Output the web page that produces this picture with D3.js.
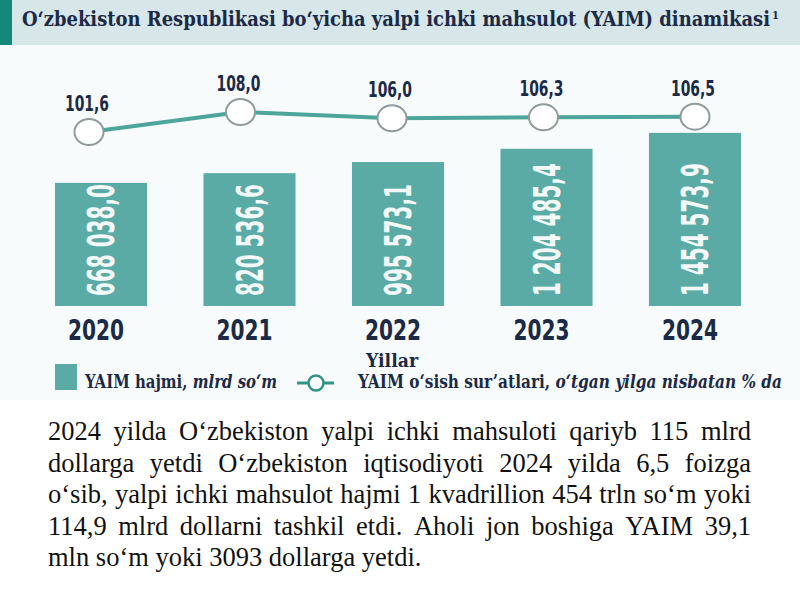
<!DOCTYPE html>
<html><head><meta charset="utf-8">
<script src="https://cdn.jsdelivr.net/npm/d3@7"></script>
<style>html,body{margin:0;padding:0;background:#fff;} svg{display:block;}</style>
</head><body><svg id="c" width="800" height="600"></svg>
<script>
// ---------------- data ----------------
const years = ["2020", "2021", "2022", "2023", "2024"];
const gdpVolume = [668038.0, 820536.6, 995573.1, 1204485.4, 1454573.9];
const gdpVolumeLabels = ["668 038,0", "820 536,6", "995 573,1", "1 204 485,4", "1 454 573,9"];
const growthRate = [101.6, 108.0, 106.0, 106.3, 106.5];
const growthLabels = ["101,6", "108,0", "106,0", "106,3", "106,5"];
const titleText = "O‘zbekiston Respublikasi bo‘yicha yalpi ichki mahsulot (YAIM) dinamikasi";
const titleNote = "1";
const axisTitle = "Yillar";
const legendBar = ["YAIM hajmi, ", "mlrd so‘m"];
const legendLine = ["YAIM o‘sish sur’atlari, ", "o‘tgan yilga nisbatan % da"];
const paragraphLines = [
  "2024 yilda O‘zbekiston yalpi ichki mahsuloti qariyb 115 mlrd",
  "dollarga yetdi O‘zbekiston iqtisodiyoti 2024 yilda 6,5 foizga",
  "o‘sib, yalpi ichki mahsulot hajmi 1 kvadrillion 454 trln so‘m yoki",
  "114,9 mlrd dollarni tashkil etdi. Aholi jon boshiga YAIM 39,1",
  "mln so‘m yoki 3093 dollarga yetdi."
];

// ---------------- styles ----------------
const TEAL = "#5aaaa5", LINE = "#4da59b", NAVY = "#1b2a47";
const condensed = "'DejaVu Sans Condensed','DejaVu Sans',sans-serif";
const serifC = "'DejaVu Serif Condensed','DejaVu Serif',serif";
const svg = d3.select("#c");

// backgrounds
svg.append("rect").attr("x", 0).attr("y", 0).attr("width", 800).attr("height", 600).attr("fill", "#ffffff");
svg.append("rect").attr("x", 0).attr("y", 45).attr("width", 800).attr("height", 355).attr("fill", "#f8fbfb");
svg.append("rect").attr("x", 0).attr("y", 0).attr("width", 800).attr("height", 45).attr("fill", "#d7e6e8");
svg.append("rect").attr("x", 0).attr("y", 0).attr("width", 12).attr("height", 45).attr("fill", "#14897b");

// title
svg.append("text").attr("x", 22).attr("y", 26)
  .attr("font-family", serifC).attr("font-stretch", "condensed")
  .attr("font-weight", "bold").attr("font-size", 20).attr("fill", NAVY)
  .attr("textLength", 748).attr("lengthAdjust", "spacingAndGlyphs")
  .text(titleText);
svg.append("text").attr("x", 772).attr("y", 19)
  .attr("font-family", serifC).attr("font-weight", "bold").attr("font-size", 11).attr("fill", NAVY)
  .text(titleNote);

// ---------------- scales ----------------
const yBase = 306;
const x = d3.scaleBand().domain(years).range([26.75, 769.25]).paddingInner(0.38).paddingOuter(0.19);
const y = d3.scaleLinear().domain([-1270000, 1500000]).range([yBase, yBase - 176]);
const xp = d3.scalePoint().domain(years).range([89, 695]);
const yl = d3.scaleLinear().domain([100, 110]).range([137, 105.75]);

// bars
svg.append("g").selectAll("rect").data(years).join("rect")
  .attr("x", d => x(d)).attr("width", x.bandwidth())
  .attr("y", (d, i) => y(gdpVolume[i])).attr("height", (d, i) => yBase - y(gdpVolume[i]))
  .attr("fill", TEAL);

// bar value labels (rotated)
const vl = svg.append("g").selectAll("g").data(years).join("g")
  .attr("transform", d => `translate(${x(d) + x.bandwidth() / 2},${yBase - 10}) rotate(-90)`);
const vt = vl.append("text").attr("font-family", condensed).attr("font-stretch", "condensed")
  .attr("font-weight", "bold").attr("font-size", 37).attr("fill", "#f3f8f8")
  .attr("text-anchor", "start").attr("dy", "0.36em")
  .text((d, i) => gdpVolumeLabels[i]);
{
  const ref = vt.nodes()[0].getComputedTextLength();
  const k = 112 / ref;
  vt.attr("transform", `scale(${k},1)`);
}

// year labels
svg.append("g").selectAll("text").data(years).join("text")
  .attr("x", d => x(d) + x.bandwidth() / 2 - 5).attr("y", 340)
  .attr("text-anchor", "middle").attr("font-family", condensed).attr("font-stretch", "condensed")
  .attr("font-weight", "bold").attr("font-size", 29).attr("fill", NAVY)
  .attr("textLength", 56).attr("lengthAdjust", "spacingAndGlyphs")
  .text(d => d);

// growth line
const lineGen = d3.line().x((d, i) => xp(years[i])).y(d => yl(d));
svg.append("path").datum(growthRate).attr("d", lineGen)
  .attr("fill", "none").attr("stroke", LINE).attr("stroke-width", 4);
svg.append("g").selectAll("ellipse").data(growthRate).join("ellipse")
  .attr("cx", (d, i) => xp(years[i])).attr("cy", d => yl(d))
  .attr("rx", 14.5).attr("ry", 13).attr("fill", "#ffffff")
  .attr("stroke", "#8f9b9a").attr("stroke-width", 2);
const gl = svg.append("g").selectAll("text").data(growthRate).join("text")
  .attr("transform", (d, i) => `translate(${xp(years[i]) - 2},${yl(d) - 21})`)
  .attr("text-anchor", "middle").attr("font-family", condensed).attr("font-stretch", "condensed")
  .attr("font-weight", "bold").attr("font-size", 21).attr("fill", NAVY)
  .text((d, i) => growthLabels[i]);
{
  const ref = gl.nodes()[1].getComputedTextLength();
  const k = 44 / ref;
  gl.each(function () {
    const t = d3.select(this);
    t.attr("transform", t.attr("transform") + ` scale(${k},1)`);
  });
}

// axis title
svg.append("text").attr("x", 392).attr("y", 367).attr("text-anchor", "middle")
  .attr("font-family", serifC).attr("font-stretch", "condensed").attr("font-weight", "bold").attr("font-size", 19)
  .attr("fill", NAVY).attr("textLength", 52).attr("lengthAdjust", "spacingAndGlyphs").text(axisTitle);

// legend
svg.append("rect").attr("x", 55).attr("y", 364).attr("width", 22).attr("height", 26).attr("fill", TEAL);
const lt1 = svg.append("text").attr("x", 85).attr("y", 388)
  .attr("font-family", serifC).attr("font-stretch", "condensed").attr("font-weight", "bold").attr("font-size", 18)
  .attr("fill", NAVY).attr("textLength", 192).attr("lengthAdjust", "spacingAndGlyphs");
lt1.append("tspan").text(legendBar[0]);
lt1.append("tspan").attr("font-style", "italic").text(legendBar[1]);
svg.append("line").attr("x1", 297).attr("x2", 334).attr("y1", 383).attr("y2", 383)
  .attr("stroke", "#2f9484").attr("stroke-width", 3);
svg.append("circle").attr("cx", 316).attr("cy", 383).attr("r", 7.5)
  .attr("fill", "#fff").attr("stroke", "#2f9484").attr("stroke-width", 2.5);
const lt2 = svg.append("text").attr("x", 358).attr("y", 388)
  .attr("font-family", serifC).attr("font-stretch", "condensed").attr("font-weight", "bold").attr("font-size", 18)
  .attr("fill", NAVY).attr("textLength", 424).attr("lengthAdjust", "spacingAndGlyphs");
lt2.append("tspan").text(legendLine[0]);
lt2.append("tspan").attr("font-style", "italic").text(legendLine[1]);

// paragraph (justified)
const pg = svg.append("g").attr("font-family", "'Liberation Serif','Times New Roman',serif")
  .attr("font-size", 26.5).attr("fill", "#111");
const px0 = 48, px1 = 751;
const spaceProbe = pg.append("text").attr("xml:space", "preserve").text("a a");
const noSpace = pg.append("text").text("aa");
const spaceW = spaceProbe.node().getComputedTextLength() - noSpace.node().getComputedTextLength();
spaceProbe.remove(); noSpace.remove();
paragraphLines.forEach((line, li) => {
  const yy = 440 + li * 31.5;
  const words = line.split(" ");
  const nodes = words.map(w => pg.append("text").attr("y", yy).text(w));
  const widths = nodes.map(n => n.node().getComputedTextLength());
  const total = d3.sum(widths);
  const justify = li < paragraphLines.length - 1;
  const gap = justify ? (px1 - px0 - total) / (words.length - 1) : spaceW;
  let xx = px0;
  nodes.forEach((n, i) => { n.attr("x", xx); xx += widths[i] + gap; });
});
</script></body></html>
